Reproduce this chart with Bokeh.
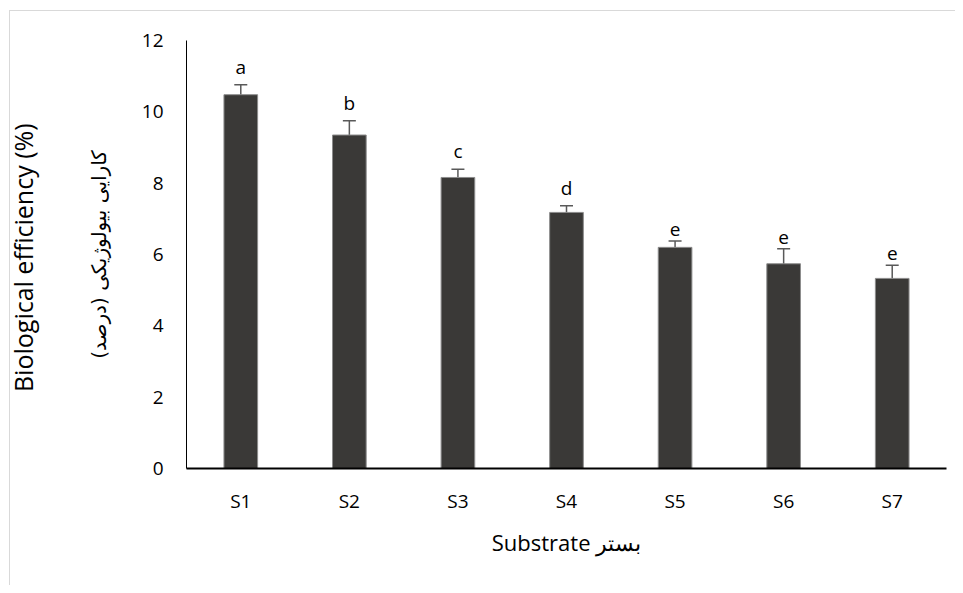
from bokeh.plotting import figure
from bokeh.models import (ColumnDataSource, Range1d, FactorRange, Whisker, TeeHead,
                          LinearAxis, FixedTicker)
from bokeh.core.properties import value
from bokeh.embed import file_html
from bokeh.resources import INLINE

categories = ["S1", "S2", "S3", "S4", "S5", "S6", "S7"]
efficiency = [10.48, 9.35, 8.16, 7.18, 6.20, 5.74, 5.33]
std_err = [0.28, 0.40, 0.23, 0.19, 0.18, 0.42, 0.37]
groups = ["a", "b", "c", "d", "e", "e", "e"]
y_ticks = [0, 2, 4, 6, 8, 10, 12]

FONT = "Open Sans"

src = ColumnDataSource(dict(
    cat=categories,
    val=efficiency,
    upper=[v + e for v, e in zip(efficiency, std_err)],
    lower=[v - e for v, e in zip(efficiency, std_err)],
    grp=groups,
))

p = figure(width=955, height=585, x_range=FactorRange(*categories, range_padding=0),
           y_range=Range1d(0, 12), output_backend="svg", toolbar_location=None,
           min_border_left=186, min_border_right=9, min_border_top=40, min_border_bottom=117)
GRAY = "#d9d9d9"
p.styles = {"background": (f"linear-gradient({GRAY},{GRAY}) 9px 10px / 1px 100% no-repeat, "
                           f"linear-gradient({GRAY},{GRAY}) 9px 10px / 100% 1px no-repeat, #ffffff")}
p.border_fill_color = None
p.background_fill_color = "#ffffff"
p.outline_line_color = None
p.xgrid.grid_line_color = None
p.ygrid.grid_line_color = None

p.vbar(x="cat", top="val", width=0.31, source=src, fill_color="#3a3937",
       line_color="#8c8c8c", line_width=1)

w = Whisker(base="cat", upper="upper", lower="lower", source=src,
            line_color="#595959", line_width=1.5,
            upper_head=TeeHead(size=13, line_color="#595959", line_width=1.5),
            lower_head=TeeHead(size=13, line_color="#595959", line_width=1.5))
p.add_layout(w)

p.text(x="cat", y="upper", text="grp", source=src, text_align="center",
       text_baseline="bottom", y_offset=-5, text_font=value(FONT),
       text_font_size="19px", text_color="#000000")

for ax in (p.xaxis[0], p.yaxis[0]):
    ax.major_tick_line_color = None
    ax.minor_tick_line_color = None
    ax.major_label_text_font = FONT
    ax.major_label_text_font_size = "19px"
    ax.major_label_text_color = "#000000"

# main y axis: ticks + Persian title line
p.yaxis.ticker = y_ticks
p.yaxis.axis_line_color = "#000000"
p.yaxis.axis_line_width = 1
p.yaxis.major_label_standoff = 17
p.yaxis.axis_label = "کارایی بیولوژیکی (درصد)"
p.yaxis.axis_label_text_font = "DejaVu Sans"
p.yaxis.axis_label_text_font_size = "20px"
p.yaxis.axis_label_text_font_style = "normal"
p.yaxis.axis_label_text_color = "#000000"
p.yaxis.axis_label_standoff = 28

# outer y axis: English title line only
outer = LinearAxis(ticker=FixedTicker(ticks=[]), axis_line_color=None,
                   major_tick_line_color=None, minor_tick_line_color=None,
                   major_tick_out=0, minor_tick_out=0, major_label_standoff=0,
                   axis_label="Biological efficiency  (%)",
                   axis_label_text_font=FONT, axis_label_text_font_size="25px",
                   axis_label_text_font_style="normal", axis_label_text_color="#000000",
                   axis_label_text_line_height=0.6,
                   axis_label_standoff=44)
p.add_layout(outer, "left")

p.xaxis.axis_line_color = "#000000"
p.xaxis.axis_line_width = 2
p.xaxis.major_label_standoff = 13
p.xaxis.axis_label = "Substrate بستر"
p.xaxis.axis_label_text_font = FONT
p.xaxis.axis_label_text_font_size = "22px"
p.xaxis.axis_label_text_font_style = "normal"
p.xaxis.axis_label_text_color = "#000000"
p.xaxis.axis_label_standoff = 10

open("out.html", "w").write(file_html(p, INLINE))
